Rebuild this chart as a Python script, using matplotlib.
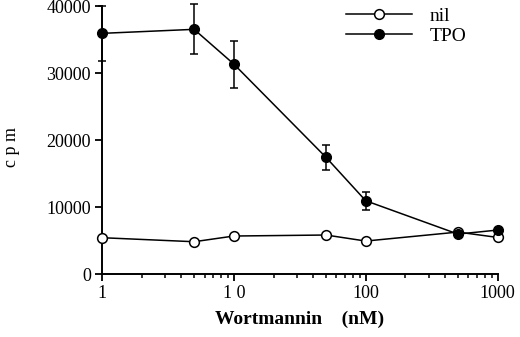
import matplotlib
matplotlib.use('Agg')
import matplotlib.pyplot as plt
from matplotlib.lines import Line2D
from matplotlib.ticker import FixedLocator, NullFormatter

# Wortmannin dose (nM)
dose = [1, 5, 10, 50, 100, 500, 1000]
nil = [5460, 4860, 5710, 5860, 4960, 6300, 5500]
tpo = [35930, 36530, 31350, 17440, 10970, 6000, 6600]
tpo_err = [4100, 3750, 3500, 1900, 1350, 0, 0]

xticks = [1, 10, 100, 1000]
xticklabels = ['1', '1 0', '100', '1000']
yticks = [0, 10000, 20000, 30000, 40000]

plt.rcParams['font.family'] = ['Liberation Serif', 'DejaVu Serif']

fig = plt.figure(figsize=(5.2, 3.37), dpi=100)
ax = fig.add_axes([0.196, 0.186, 0.761, 0.796])

ax.plot(dose, nil, color='black', lw=1.1, marker='o', ms=7,
        mfc='white', mec='black', mew=1.1, zorder=3, clip_on=False)
ax.errorbar(dose, tpo, yerr=tpo_err, color='black', lw=1.1, marker='o', ms=7,
            mfc='black', mec='black', capsize=3, elinewidth=1.1, capthick=1.1,
            zorder=4, clip_on=False)

ax.set_xscale('log')
ax.set_xlim(1, 1000)
ax.set_ylim(0, 40000)
ax.set_xticks(xticks)
ax.set_xticklabels(xticklabels)
ax.xaxis.set_minor_locator(FixedLocator(
    [m * d for d in (1, 10, 100) for m in range(2, 10)]))
ax.xaxis.set_minor_formatter(NullFormatter())
ax.set_yticks(yticks)

for s in ('top', 'right'):
    ax.spines[s].set_visible(False)
for s in ('left', 'bottom'):
    ax.spines[s].set_linewidth(1.4)

ax.tick_params(axis='both', which='major', direction='out', length=5,
               width=1.3, labelsize=13, pad=3)
ax.tick_params(axis='x', which='minor', direction='out', length=3, width=1.1)

ax.set_xlabel('Wortmannin    (nM)', fontsize=14, fontweight='bold', labelpad=6)
fig.text(0.023, 0.565, 'c p m', rotation=90, fontsize=13,
         ha='center', va='center')

handles = [
    Line2D([], [], color='black', lw=1.1, marker='o', ms=7, mfc='white',
           mec='black', mew=1.1),
    Line2D([], [], color='black', lw=1.1, marker='o', ms=7, mfc='black',
           mec='black'),
]
ax.legend(handles, ['nil', 'TPO'], loc='upper left',
          bbox_to_anchor=(0.665, 0.978), bbox_transform=fig.transFigure,
          frameon=False, fontsize=14, handlelength=3.4, handletextpad=0.9,
          labelspacing=0.1, borderpad=0, borderaxespad=0)

fig.savefig('out.png', dpi=100)
